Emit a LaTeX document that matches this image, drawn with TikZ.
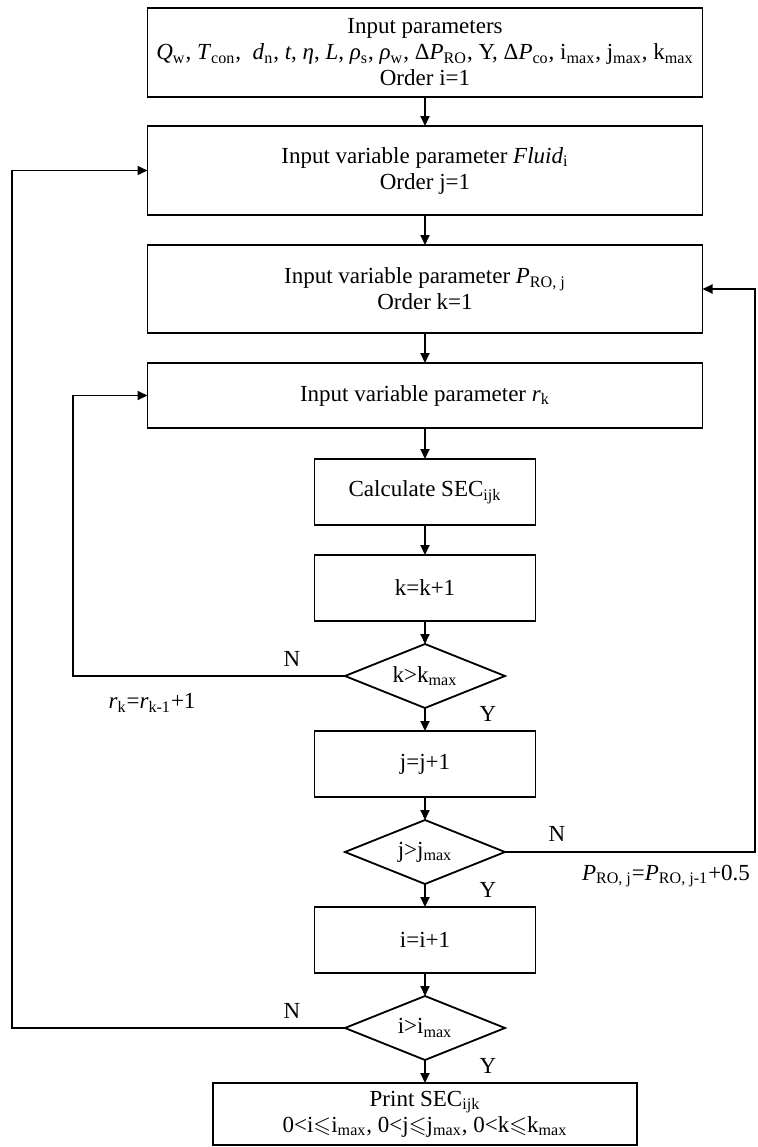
\documentclass[tikz,border=0pt]{standalone}
\usepackage{amssymb}
\usepackage{fontspec}
\setmainfont{Liberation Serif}
\usepackage{tikz}
\usetikzlibrary{positioning,shapes.geometric,arrows.meta}
\newcommand{\lo}[1]{\textsubscript{#1}}

\begin{document}
\begin{tikzpicture}[font=\fontsize{11.5}{13}\selectfont]
      \tikzset{BoxStyle/.style = {draw, line width=0.9pt, align=center, inner sep=1pt, outer sep=0pt, minimum width=277.5pt}}
      \tikzset{SmallStyle/.style = {BoxStyle, minimum width=110.5pt, minimum height=33pt}}
      \tikzset{DecisionStyle/.style = {draw, line width=0.9pt, diamond, shape aspect=2, inner sep=0pt, outer sep=0pt, minimum width=80pt, minimum height=32pt}}
      \tikzset{EdgeStyle/.style = {line width=0.9pt, -{Triangle[length=5pt,width=4.5pt]}}}

      \useasboundingbox (0,0) rectangle (378.5pt,-573.5pt);

      \node[BoxStyle, minimum height=44.5pt] (In) at (212.5pt,-26.25pt)
        {Input parameters\\
         \textit{Q}\lo{w}, \textit{T}\lo{con}, \ \textit{d}\lo{n}, \textit{t}, \textit{η}, \textit{L}, \textit{ρ}\lo{s}, \textit{ρ}\lo{w}, Δ\textit{P}\lo{RO}, Y, Δ\textit{P}\lo{co}, i\lo{max}, j\lo{max}, k\lo{max}\\
         Order i=1};
      \node[BoxStyle, minimum height=44.5pt, below=14.5pt of In] (Fl)
        {Input variable parameter \textit{Fluid}\lo{i}\\ Order j=1};
      \node[BoxStyle, minimum height=44pt, below=15pt of Fl] (Pro)
        {Input variable parameter \textit{P}\lo{RO, j}\\ Order k=1};
      \node[BoxStyle, minimum height=32.5pt, below=15pt of Pro] (Rk)
        {Input variable parameter \textit{r}\lo{k}};
      \node[SmallStyle, below=15.5pt of Rk] (Calc) {Calculate SEC\lo{ijk}};
      \node[SmallStyle, below=15pt of Calc] (Kinc) {k=k+1};
      \node[DecisionStyle, below=11.5pt of Kinc] (Kdec) {k>k\lo{max}};
      \node[SmallStyle, below=11.5pt of Kdec] (Jinc) {j=j+1};
      \node[DecisionStyle, below=11.5pt of Jinc] (Jdec) {j>j\lo{max}};
      \node[SmallStyle, below=11.5pt of Jdec] (Iinc) {i=i+1};
      \node[DecisionStyle, below=11.5pt of Iinc] (Idec) {i>i\lo{max}};
      \node[BoxStyle, minimum width=212pt, minimum height=31pt, below=11.5pt of Idec] (Out)
        {Print SEC\lo{ijk}\\ 0<i$\leqslant$i\lo{max}, 0<j$\leqslant$j\lo{max}, 0<k$\leqslant$k\lo{max}};

      \node (Kn) at ([xshift=-26.5pt,yshift=8.5pt]Kdec.west) {N};
      \node (Ky) at ([xshift=31.5pt,yshift=-3pt]Kdec.south) {Y};
      \node (Kr) at ([xshift=-96.5pt,yshift=-13.5pt]Kdec.west) {\textit{r}\lo{k}=\textit{r}\lo{k-1}+1};
      \node (Jn) at ([xshift=26pt,yshift=9pt]Jdec.east) {N};
      \node (Jy) at ([xshift=31.5pt,yshift=-3pt]Jdec.south) {Y};
      \node (Jp) at ([xshift=80.5pt,yshift=-12pt]Jdec.east) {\textit{P}\lo{RO, j}=\textit{P}\lo{RO, j-1}+0.5};
      \node (In2) at ([xshift=-26.5pt,yshift=8.5pt]Idec.west) {N};
      \node (Iy) at ([xshift=31.5pt,yshift=-3pt]Idec.south) {Y};

      \draw[EdgeStyle] (In) -- (Fl);
      \draw[EdgeStyle] (Fl) -- (Pro);
      \draw[EdgeStyle] (Pro) -- (Rk);
      \draw[EdgeStyle] (Rk) -- (Calc);
      \draw[EdgeStyle] (Calc) -- (Kinc);
      \draw[EdgeStyle] (Kinc) -- (Kdec);
      \draw[EdgeStyle] (Kdec) -- (Jinc);
      \draw[EdgeStyle] (Jinc) -- (Jdec);
      \draw[EdgeStyle] (Jdec) -- (Iinc);
      \draw[EdgeStyle] (Iinc) -- (Idec);
      \draw[EdgeStyle] (Idec) -- (Out);
      \draw[EdgeStyle] (Kdec.west) -- ++(-136pt,0) |- (Rk.west);
      \draw[EdgeStyle] (Jdec.east) -- ++(125pt,0) |- (Pro.east);
      \draw[EdgeStyle] (Idec.west) -- ++(-166.5pt,0) |- (Fl.west);
    \end{tikzpicture}
\end{document}
